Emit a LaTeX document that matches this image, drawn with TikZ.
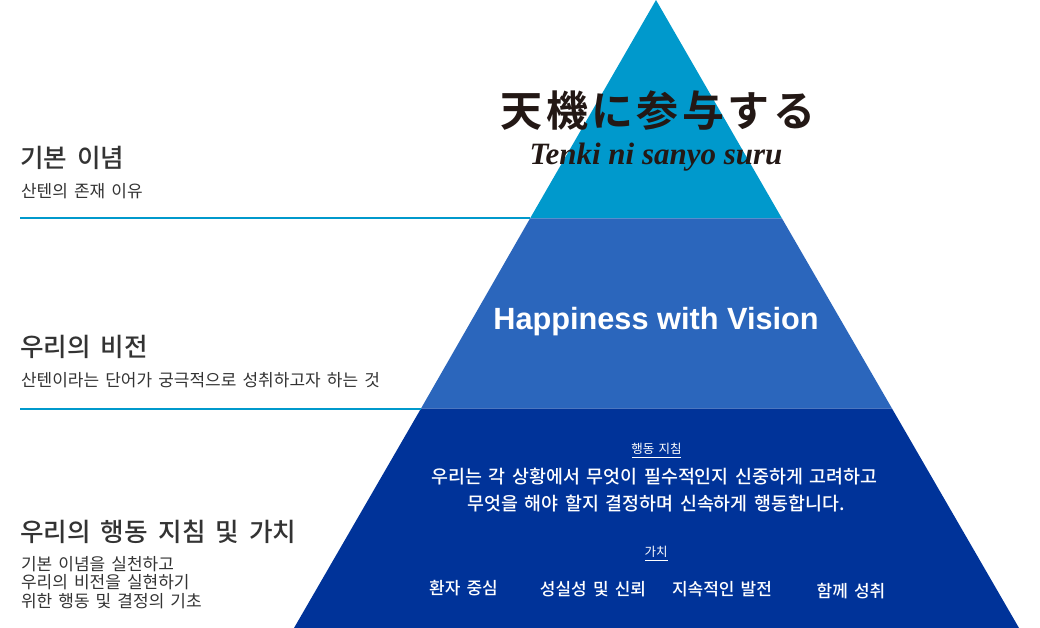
\documentclass[tikz,border=0pt]{standalone}
\usepackage{fontspec}
\setmainfont{Liberation Sans}
\newfontfamily\kr[WordSpace=1.6]{Noto Sans CJK KR}
\newfontfamily\krh[LetterSpace=0.6,WordSpace=1.7]{Noto Sans CJK KR Medium}
\newfontfamily\krm[WordSpace=1.6]{Noto Sans CJK KR Medium}
\newfontfamily\jp[LetterSpace=8]{Noto Sans CJK JP Bold}
\newfontfamily\lat{Liberation Serif}
\definecolor{topb}{HTML}{0099CC}
\definecolor{midb}{HTML}{2B66BC}
\definecolor{lowb}{HTML}{003399}
\definecolor{ink}{HTML}{333333}
\definecolor{logo}{HTML}{231815}
\tikzset{
  lay/.style={inner sep=0pt,outer sep=0pt},
  headtxt/.style={lay,anchor=west,text=ink,font=\krh\fontsize{25.6}{26}\selectfont},
  subtxt/.style={lay,anchor=west,text=ink,font=\kr\fontsize{17}{18.5}\selectfont,align=left},
  wt/.style={lay,text=white,font=\krm\fontsize{17}{17}\selectfont},
  bodytxt/.style={lay,text=white,font=\krm\fontsize{18.4}{18.5}\selectfont},
  captxt/.style={lay,text=white,font=\kr\fontsize{12.5}{12.5}\selectfont},
  rulegauge/.style={draw=topb,line width=2pt},
  caprule/.style={draw=white,line width=0.6pt}
}
\begin{document}
\begin{tikzpicture}[x=1pt,y=-1pt]
\useasboundingbox (0,0) rectangle (1040,628);
\fill[topb] (656,0) -- (782,218.5) -- (530,218.5) -- cycle;
\fill[midb] (530,218.5) -- (782,218.5) -- (892,408.5) -- (421,408.5) -- cycle;
\fill[lowb] (421,408.5) -- (892,408.5) -- (1019,628) -- (294,628) -- cycle;
\coordinate (r1a) at (20,218.5); \coordinate (r1b) at (530,218.5);
\coordinate (r2a) at (20,408.5); \coordinate (r2b) at (421,408.5);
\draw[rulegauge] (r1a) -- (r1b);
\draw[rulegauge] (r2a) -- (r2b);
\node[lay,text=logo,font=\jp\fontsize{42}{42}\selectfont] (jp) at (658,111) {天機に参与する};
\node[lay,text=logo,font=\lat\bfseries\itshape\fontsize{31}{31}\selectfont] (en) at (656,157) {Tenki ni sanyo suru};
\node[lay,text=white,font=\bfseries\fontsize{30.7}{31}\selectfont] (hv) at (656,321.5) {Happiness with Vision};
\node[headtxt] (h1) at (20,158) {기본 이념};
\node[subtxt] (s1) at (21,191) {산텐의 존재 이유};
\node[headtxt] (h2) at (20,347) {우리의 비전};
\node[subtxt] (s2) at (21,380) {산텐이라는 단어가 궁극적으로 성취하고자 하는 것};
\node[headtxt] (h3) at (20,532) {우리의 행동 지침 및 가치};
\node[subtxt] (s3) at (21,582.5) {기본 이념을 실천하고\\우리의 비전을 실현하기\\위한 행동 및 결정의 기초};
\node[captxt] (c1) at (656.5,449) {행동 지침};
\coordinate (c1a) at (632,457.5); \coordinate (c1b) at (681,457.5);
\draw[caprule] (c1a) -- (c1b);
\node[bodytxt] (l1) at (654.5,476.5) {우리는 각 상황에서 무엇이 필수적인지 신중하게 고려하고};
\node[bodytxt] (l2) at (656,503.5) {무엇을 해야 할지 결정하며 신속하게 행동합니다.};
\node[captxt] (c2) at (656,552) {가치};
\coordinate (c2a) at (645,560.5); \coordinate (c2b) at (668,560.5);
\draw[caprule] (c2a) -- (c2b);
\node[wt] (v1) at (463.5,588.5) {환자 중심};
\node[wt] (v2) at (593,589.5) {성실성 및 신뢰};
\node[wt] (v3) at (722,589.5) {지속적인 발전};
\node[wt] (v4) at (851,591.5) {함께 성취};
\end{tikzpicture}
\end{document}
